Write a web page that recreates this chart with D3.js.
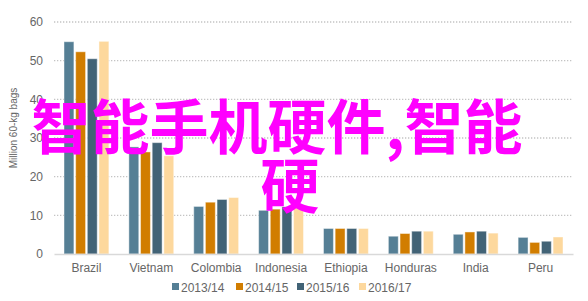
<!DOCTYPE html>
<html>
<head>
<meta charset="utf-8">
<script src="https://cdn.jsdelivr.net/npm/d3@7"></script>
<style>
  body { margin: 0; background: #fff; }
  svg { display: block; font-family: "Liberation Sans", Arial, sans-serif; }
</style>
</head>
<body>
<svg id="chart" width="588" height="301"></svg>
<script>
// data
const countries = ["Brazil", "Vietnam", "Colombia", "Indonesia", "Ethiopia", "Honduras", "India", "Peru"];
const seasons = ["2013/14", "2014/15", "2015/16", "2016/17"];
const v2013 = [54.9, 27.7, 12.3, 11.3, 6.6, 4.6, 5.1, 4.3];
const v2014 = [52.3, 26.4, 13.4, 11.6, 6.6, 5.3, 5.7, 3.0];
const v2015 = [50.5, 28.8, 14.1, 12.2, 6.6, 5.9, 5.9, 3.3];
const v2016 = [55.0, 25.4, 14.6, 12.0, 6.6, 5.9, 5.4, 4.4];
const yTicks = [0, 10, 20, 30, 40, 50, 60];
const colors = ["#557f95", "#d17d00", "#426376", "#fdd89d"];
const overlay = ["智能手机硬件,智能", "硬"];

const series = [v2013, v2014, v2015, v2016];

const svg = d3.select("#chart");
const plotLeft = 54, plotRight = 573, plotTop = 22, plotBottom = 254;

var x = d3.scaleBand().domain(countries).range([plotLeft, plotRight]).padding(0);
var x1 = d3.scaleBand().domain(seasons).range([10, x.bandwidth() - 10]).paddingInner(0.15);
var y = d3.scaleLinear().domain([0, 60]).range([plotBottom, plotTop]);

// dotted grid lines
svg.append("g")
  .selectAll("line")
  .data(yTicks.filter(d => d > 0))
  .enter().append("line")
  .attr("x1", plotLeft).attr("x2", plotRight)
  .attr("y1", d => y(d)).attr("y2", d => y(d))
  .attr("stroke", "#c4c4c4")
  .attr("stroke-width", 1.3)
  .attr("stroke-dasharray", "1.3,1.7");

// y axis labels
var yAxis = svg.append("g")
  .attr("transform", "translate(" + (plotLeft - 5) + ",0)")
  .call(d3.axisLeft(y).tickValues(yTicks).tickSize(0).tickPadding(6));
yAxis.select(".domain").remove();
yAxis.selectAll("text").attr("fill", "#666").style("font-size", "12px");

svg.append("text")
  .attr("transform", "translate(17,128) rotate(-90)")
  .attr("text-anchor", "middle")
  .attr("fill", "#666")
  .style("font-size", "10px")
  .text("Million 60-kg bags");

// bars
var groups = svg.append("g")
  .selectAll("g")
  .data(countries)
  .enter().append("g")
  .attr("transform", d => "translate(" + x(d) + ",0)");

groups.selectAll("rect")
  .data((c, i) => seasons.map((s, j) => ({ season: s, value: series[j][i], k: j })))
  .enter().append("rect")
  .attr("x", d => x1(d.season))
  .attr("width", x1.bandwidth())
  .attr("y", d => y(d.value))
  .attr("height", d => y(0) - y(d.value))
  .attr("fill", d => colors[d.k])
  .attr("stroke", "#fff")
  .attr("stroke-opacity", 0.45)
  .attr("stroke-width", 1);

// x axis
var xAxis = svg.append("g")
  .attr("transform", "translate(0," + plotBottom + ")")
  .call(d3.axisBottom(x).tickSize(0).tickPadding(9));
xAxis.select(".domain").attr("stroke", "#d9d9d9").attr("stroke-width", 1.5);
xAxis.selectAll("text").attr("fill", "#666").style("font-size", "12px");

// legend
var legendX = [172, 236, 297, 359];
var legend = svg.append("g")
  .selectAll("g")
  .data(seasons)
  .enter().append("g")
  .attr("transform", (d, i) => "translate(" + legendX[i] + ",287)");
legend.append("rect")
  .attr("x", 0).attr("y", -4)
  .attr("width", 7).attr("height", 7)
  .attr("fill", (d, i) => colors[i]);
legend.append("text")
  .attr("x", 9).attr("y", 4.5)
  .attr("fill", "#666")
  .style("font-size", "12px")
  .text(d => d);

// magenta overlay text
var overlayX = [277, 290];
svg.append("g")
  .selectAll("text")
  .data(overlay)
  .enter().append("text")
  .attr("x", (d, i) => overlayX[i])
  .attr("y", (d, i) => 149 + i * 59)
  .attr("text-anchor", "middle")
  .attr("fill", "#ff00ff")
  .style("font-family", "'Noto Sans CJK SC', sans-serif")
  .style("font-weight", "bold")
  .style("font-size", "59px")
  .text(d => d);
</script>
</body>
</html>
